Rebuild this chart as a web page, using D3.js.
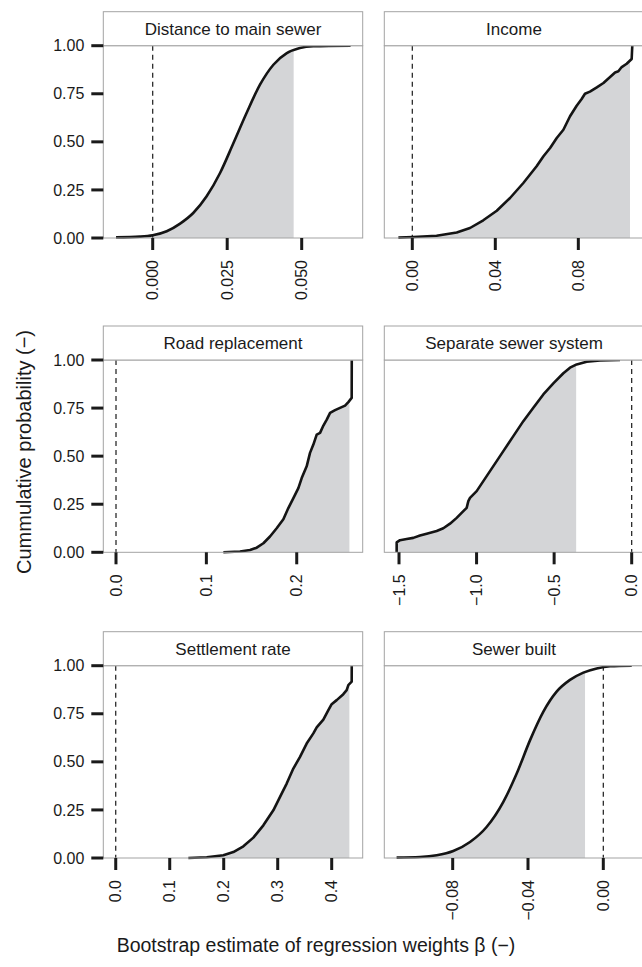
<!DOCTYPE html>
<html lang="en">
<head>
<meta charset="UTF-8">
<title>Bootstrap regression weights</title>
<script src="https://d3js.org/d3.v7.min.js"></script>
<style>
  body { margin: 0; background: #fff; }
  svg { display: block; }
  text { font-family: "Liberation Sans", Arial, sans-serif; fill: #1a1a1a; }
</style>
</head>
<body>
<script>
// panel titles, in reading order
const panelNames = ["Distance to main sewer", "Income", "Road replacement",
                    "Separate sewer system", "Settlement rate", "Sewer built"];

// tick values and labels for each panel
const ticksDist = [0, 0.025, 0.05],   labelsDist = ["0.000", "0.025", "0.050"];
const ticksInc = [0, 0.04, 0.08],     labelsInc = ["0.00", "0.04", "0.08"];
const ticksRoad = [0, 0.1, 0.2],      labelsRoad = ["0.0", "0.1", "0.2"];
const ticksSep = [-1.5, -1.0, -0.5, 0], labelsSep = ["\u22121.5", "\u22121.0", "\u22120.5", "0.0"];
const ticksSettle = [0, 0.1, 0.2, 0.3, 0.4], labelsSettle = ["0.0", "0.1", "0.2", "0.3", "0.4"];
const ticksBuilt = [-0.08, -0.04, 0],  labelsBuilt = ["\u22120.08", "\u22120.04", "0.00"];
const yTicks = [0, 0.25, 0.5, 0.75, 1], yLabels = ["0.00", "0.25", "0.50", "0.75", "1.00"];

// cumulative distributions (beta, probability)
const distX = [-0.0123, -0.0043, 0, 0.0047, 0.0092, 0.0136, 0.0181, 0.0226, 0.0271, 0.0315, 0.036, 0.0405, 0.045, 0.0494, 0.0539, 0.0664];
const distP = [0.003, 0.007, 0.014, 0.035, 0.075, 0.13, 0.217, 0.338, 0.494, 0.65, 0.797, 0.901, 0.961, 0.988, 0.997, 1];
const distShade = 0.0473;

const incX = [-0.0067, 0.0005, 0.0117, 0.0214, 0.0278, 0.0342, 0.0407, 0.0471, 0.0535, 0.0599, 0.0632, 0.0664, 0.0696, 0.0728, 0.076, 0.0792, 0.0816, 0.0832, 0.0856, 0.0889, 0.0921, 0.0953, 0.0977, 0.0993, 0.1009, 0.1033, 0.1057, 0.106];
const incP = [0.002, 0.005, 0.012, 0.029, 0.052, 0.092, 0.142, 0.208, 0.286, 0.373, 0.425, 0.468, 0.52, 0.563, 0.633, 0.688, 0.723, 0.75, 0.761, 0.783, 0.806, 0.837, 0.861, 0.867, 0.889, 0.906, 0.931, 1];
const incShade = 0.1049;

const roadX = [0.1188, 0.1372, 0.1483, 0.1557, 0.1631, 0.1704, 0.1778, 0.1852, 0.1907, 0.1963, 0.2018, 0.2055, 0.211, 0.2147, 0.2184, 0.2221, 0.2258, 0.2295, 0.2332, 0.2369, 0.2424, 0.2479, 0.2535, 0.2571, 0.2608, 0.2609];
const roadP = [0, 0.004, 0.012, 0.024, 0.047, 0.082, 0.125, 0.172, 0.23, 0.282, 0.334, 0.386, 0.447, 0.517, 0.56, 0.612, 0.621, 0.659, 0.69, 0.725, 0.739, 0.751, 0.763, 0.781, 0.803, 1];
const roadShade = 0.2583;

const sepX = [-1.5151, -1.5150, -1.4936, -1.4506, -1.4077, -1.3647, -1.3217, -1.2572, -1.2143, -1.1713, -1.1283, -1.0853, -1.0638, -1.0531, -1.0424, -0.9994, -0.9349, -0.8704, -0.8275, -0.763, -0.6986, -0.6341, -0.5697, -0.5052, -0.4407, -0.3977, -0.3547, -0.2903, -0.2043, -0.0754];
const sepP = [0, 0.052, 0.063, 0.069, 0.075, 0.087, 0.097, 0.111, 0.125, 0.149, 0.179, 0.214, 0.231, 0.266, 0.283, 0.318, 0.396, 0.474, 0.526, 0.604, 0.682, 0.752, 0.821, 0.878, 0.931, 0.96, 0.977, 0.991, 0.998, 1];
const sepShade = -0.358;

const settleX = [0.1345, 0.1685, 0.1993, 0.2178, 0.2364, 0.2549, 0.2734, 0.2919, 0.3043, 0.3166, 0.3289, 0.3413, 0.3536, 0.366, 0.3722, 0.3845, 0.3938, 0.3999, 0.4092, 0.4215, 0.4277, 0.4308, 0.437, 0.4371];
const settleP = [0, 0.004, 0.014, 0.031, 0.061, 0.106, 0.17, 0.248, 0.318, 0.387, 0.465, 0.526, 0.595, 0.648, 0.679, 0.72, 0.769, 0.8, 0.821, 0.852, 0.873, 0.899, 0.917, 1];
const settleShade = 0.4327;

const builtX = [-0.1098, -0.0974, -0.0885, -0.0797, -0.0708, -0.062, -0.0531, -0.046, -0.0389, -0.0319, -0.0248, -0.0177, -0.0106, -0.0035, 0.0036, 0.0151];
const builtP = [0.002, 0.005, 0.014, 0.036, 0.083, 0.161, 0.292, 0.439, 0.613, 0.76, 0.865, 0.926, 0.964, 0.986, 0.997, 1];
const builtShade = -0.0097;

// assemble panels
const panels = [
  { name: panelNames[0], xs: distX, ps: distP, shade: distShade, ticks: ticksDist, labels: labelsDist, domain: [-0.01658, 0.07047], smooth: true },
  { name: panelNames[1], xs: incX, ps: incP, shade: incShade, ticks: ticksInc, labels: labelsInc, domain: [-0.01349, 0.1115], smooth: false },
  { name: panelNames[2], xs: roadX, ps: roadP, shade: roadShade, ticks: ticksRoad, labels: labelsRoad, domain: [-0.01406, 0.2730], smooth: false },
  { name: panelNames[3], xs: sepX, ps: sepP, shade: sepShade, ticks: ticksSep, labels: labelsSep, domain: [-1.5948, 0.0774], smooth: false },
  { name: panelNames[4], xs: settleX, ps: settleP, shade: settleShade, ticks: ticksSettle, labels: labelsSettle, domain: [-0.02302, 0.4574], smooth: false },
  { name: panelNames[5], xs: builtX, ps: builtP, shade: builtShade, ticks: ticksBuilt, labels: labelsBuilt, domain: [-0.11633, 0.02146], smooth: true }
];

const W = 642, H = 967;
const colLeft = [103.3, 384.3];
const stripTop = [11.7, 326, 631.7];
const panelW = 259.4, stripH = 34, panelH = 192.3;

const svg = d3.select("body").append("svg")
  .attr("width", W).attr("height", H);

const defs = svg.append("defs");

panels.forEach((p, i) => {
  const col = i % 2, row = Math.floor(i / 2);
  const x0 = colLeft[col], top = stripTop[row] + stripH;
  const g = svg.append("g").attr("transform", `translate(${x0},${top})`);

  const x = d3.scaleLinear().domain(p.domain).range([0, panelW]);
  const y = d3.scaleLinear().domain([0, 1]).range([panelH, 0]);
  const pts = p.xs.map((v, k) => [v, p.ps[k]]);

  // shaded area up to the shade limit
  defs.append("clipPath").attr("id", "clip" + i)
    .append("rect").attr("x", -5).attr("y", -5)
    .attr("width", x(p.shade) + 5).attr("height", panelH + 10);

  const curve = p.smooth ? d3.curveMonotoneX : d3.curveLinear;
  g.append("path")
    .datum(pts)
    .attr("clip-path", `url(#clip${i})`)
    .attr("fill", "#d4d5d7")
    .attr("d", d3.area().x(d => x(d[0])).y0(y(0)).y1(d => y(d[1])).curve(curve));

  // dashed zero line
  g.append("line")
    .attr("x1", x(0)).attr("x2", x(0)).attr("y1", 0).attr("y2", panelH)
    .attr("stroke", "#1a1a1a").attr("stroke-width", 1.2)
    .attr("stroke-dasharray", "5,4");

  // cdf line
  g.append("path")
    .datum(pts)
    .attr("fill", "none")
    .attr("stroke", "#141414")
    .attr("stroke-width", 2.6)
    .attr("stroke-linejoin", "round")
    .attr("d", d3.line().x(d => x(d[0])).y(d => y(d[1])).curve(curve));

  // panel border
  g.append("rect")
    .attr("width", panelW).attr("height", panelH)
    .attr("fill", "none").attr("stroke", "#a3a3a3").attr("stroke-width", 1);

  // strip
  g.append("rect")
    .attr("y", -stripH).attr("width", panelW).attr("height", stripH)
    .attr("fill", "#fff").attr("stroke", "#a3a3a3").attr("stroke-width", 1);
  g.append("text")
    .attr("x", panelW / 2).attr("y", -stripH / 2).attr("dy", "0.35em")
    .attr("text-anchor", "middle").attr("font-size", 17)
    .text(p.name);

  // x ticks
  const xt = g.append("g").attr("transform", `translate(0,${panelH})`);
  p.ticks.forEach((t, k) => {
    xt.append("line")
      .attr("x1", x(t)).attr("x2", x(t)).attr("y1", 0).attr("y2", 12)
      .attr("stroke", "#1a1a1a").attr("stroke-width", 3);
    xt.append("text")
      .attr("transform", `translate(${x(t)},22) rotate(-90)`)
      .attr("text-anchor", "end").attr("dy", "0.35em")
      .attr("font-size", 16).attr("fill", "#333")
      .text(p.labels[k]);
  });

  // y ticks on the left column only
  if (col === 0) {
    yTicks.forEach((t, k) => {
      g.append("line")
        .attr("x1", -12).attr("x2", 0).attr("y1", y(t)).attr("y2", y(t))
        .attr("stroke", "#1a1a1a").attr("stroke-width", 3);
      g.append("text")
        .attr("x", -19).attr("y", y(t)).attr("dy", "0.35em")
        .attr("text-anchor", "end").attr("font-size", 16).attr("fill", "#333")
        .text(yLabels[k]);
    });
  }
});

// axis titles
svg.append("text")
  .attr("transform", `translate(24,452) rotate(-90)`)
  .attr("text-anchor", "middle").attr("dy", "0.35em")
  .attr("font-size", 20)
  .text("Cummulative probability (\u2212)");

svg.append("text")
  .attr("x", 316).attr("y", 945).attr("dy", "0.35em")
  .attr("text-anchor", "middle").attr("font-size", 19.5)
  .text("Bootstrap estimate of regression weights \u03b2 (\u2212)");
</script>
</body>
</html>
